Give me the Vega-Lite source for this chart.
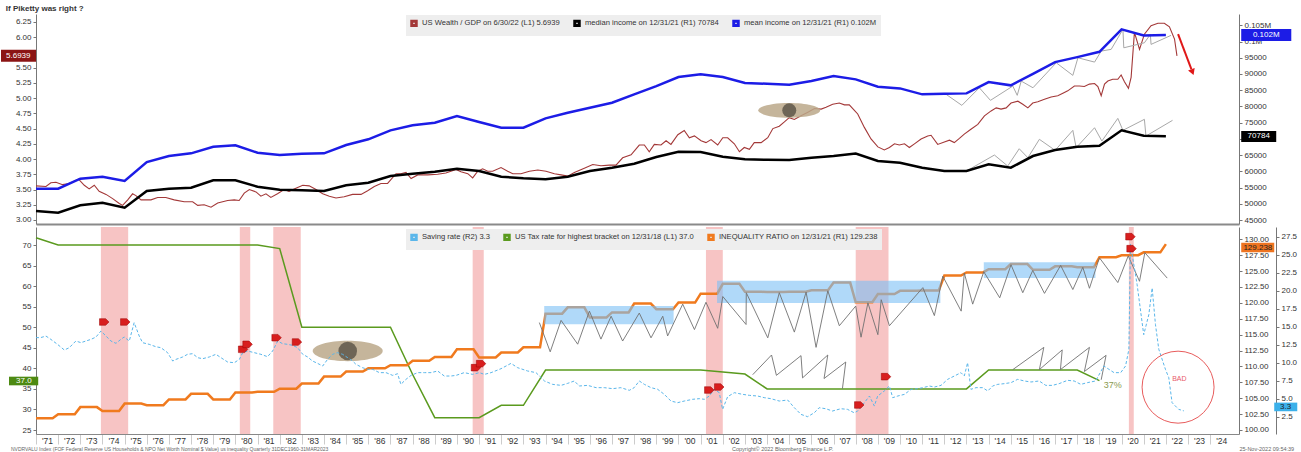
{
"$schema": "https://vega.github.io/schema/vega-lite/v6.json",
"padding": {"left": 0, "top": 4, "right": 0, "bottom": 0},
"background": "white",
"bounds": "flush",
"spacing": 3,
"config": {
  "view": {"stroke": null},
  "font": "Liberation Sans",
  "axis": {"labelFont": "Liberation Sans", "labelFontSize": 8, "labelColor": "#333333", "tickColor": "#777777", "domainColor": "#777777", "tickSize": 3, "labelPadding": 2, "grid": false, "title": null, "labelOverlap": false, "labelSeparation": 0},
  "legend": {"labelFont": "Liberation Sans", "labelFontSize": 7.6, "labelColor": "#333333", "labelLimit": 600}
},
"resolve": {"scale": {"color": "independent"}, "legend": {"color": "independent"}},
"datasets": {
  "wealth": [{"x":1971.0,"v":3.56},{"x":1971.45,"v":3.55},{"x":1971.67,"v":3.61},{"x":1971.9,"v":3.62},{"x":1972.2,"v":3.58},{"x":1972.5,"v":3.60},{"x":1972.92,"v":3.67},{"x":1973.18,"v":3.57},{"x":1973.4,"v":3.51},{"x":1973.63,"v":3.57},{"x":1973.85,"v":3.47},{"x":1974.16,"v":3.42},{"x":1974.46,"v":3.35},{"x":1974.76,"v":3.27},{"x":1974.91,"v":3.24},{"x":1975.14,"v":3.33},{"x":1975.36,"v":3.43},{"x":1975.51,"v":3.40},{"x":1975.74,"v":3.33},{"x":1976.19,"v":3.33},{"x":1976.49,"v":3.37},{"x":1976.86,"v":3.37},{"x":1977.24,"v":3.33},{"x":1977.69,"v":3.30},{"x":1978.07,"v":3.30},{"x":1978.3,"v":3.24},{"x":1978.59,"v":3.25},{"x":1978.9,"v":3.21},{"x":1979.2,"v":3.28},{"x":1979.65,"v":3.32},{"x":1979.95,"v":3.33},{"x":1980.17,"v":3.32},{"x":1980.4,"v":3.44},{"x":1980.63,"v":3.50},{"x":1980.93,"v":3.46},{"x":1981.15,"v":3.39},{"x":1981.38,"v":3.43},{"x":1981.6,"v":3.37},{"x":1981.9,"v":3.43},{"x":1982.2,"v":3.50},{"x":1982.42,"v":3.47},{"x":1982.73,"v":3.52},{"x":1983.04,"v":3.57},{"x":1983.33,"v":3.56},{"x":1983.64,"v":3.50},{"x":1983.94,"v":3.43},{"x":1984.24,"v":3.39},{"x":1984.54,"v":3.36},{"x":1984.91,"v":3.38},{"x":1985.29,"v":3.42},{"x":1985.67,"v":3.42},{"x":1985.97,"v":3.48},{"x":1986.27,"v":3.55},{"x":1986.57,"v":3.60},{"x":1986.87,"v":3.60},{"x":1987.25,"v":3.76},{"x":1987.47,"v":3.76},{"x":1987.7,"v":3.78},{"x":1987.93,"v":3.68},{"x":1988.23,"v":3.74},{"x":1988.68,"v":3.74},{"x":1989.13,"v":3.75},{"x":1989.5,"v":3.77},{"x":1989.96,"v":3.83},{"x":1990.18,"v":3.79},{"x":1990.49,"v":3.76},{"x":1990.71,"v":3.69},{"x":1990.94,"v":3.80},{"x":1991.16,"v":3.84},{"x":1991.39,"v":3.80},{"x":1991.61,"v":3.80},{"x":1991.99,"v":3.86},{"x":1992.29,"v":3.80},{"x":1992.52,"v":3.76},{"x":1992.89,"v":3.76},{"x":1993.27,"v":3.80},{"x":1993.65,"v":3.82},{"x":1994.02,"v":3.80},{"x":1994.4,"v":3.76},{"x":1994.7,"v":3.74},{"x":1995.0,"v":3.72},{"x":1995.3,"v":3.78},{"x":1995.75,"v":3.85},{"x":1996.13,"v":3.91},{"x":1996.5,"v":3.89},{"x":1996.88,"v":3.90},{"x":1997.18,"v":3.90},{"x":1997.48,"v":4.02},{"x":1997.86,"v":4.07},{"x":1998.23,"v":4.23},{"x":1998.46,"v":4.23},{"x":1998.68,"v":4.12},{"x":1998.91,"v":4.24},{"x":1999.21,"v":4.23},{"x":1999.44,"v":4.30},{"x":1999.66,"v":4.24},{"x":1999.97,"v":4.40},{"x":2000.26,"v":4.47},{"x":2000.49,"v":4.35},{"x":2000.72,"v":4.38},{"x":2001.02,"v":4.30},{"x":2001.24,"v":4.27},{"x":2001.47,"v":4.32},{"x":2001.77,"v":4.23},{"x":2002.0,"v":4.35},{"x":2002.22,"v":4.35},{"x":2002.52,"v":4.25},{"x":2002.75,"v":4.12},{"x":2002.97,"v":4.19},{"x":2003.2,"v":4.16},{"x":2003.42,"v":4.27},{"x":2003.73,"v":4.27},{"x":2004.03,"v":4.35},{"x":2004.26,"v":4.50},{"x":2004.55,"v":4.54},{"x":2004.78,"v":4.61},{"x":2005.0,"v":4.68},{"x":2005.23,"v":4.65},{"x":2005.53,"v":4.71},{"x":2005.84,"v":4.77},{"x":2006.14,"v":4.83},{"x":2006.44,"v":4.82},{"x":2006.66,"v":4.85},{"x":2006.96,"v":4.90},{"x":2007.26,"v":4.92},{"x":2007.49,"v":4.89},{"x":2007.71,"v":4.89},{"x":2007.94,"v":4.80},{"x":2008.09,"v":4.74},{"x":2008.39,"v":4.52},{"x":2008.69,"v":4.33},{"x":2009.0,"v":4.20},{"x":2009.29,"v":4.15},{"x":2009.52,"v":4.19},{"x":2009.75,"v":4.25},{"x":2009.97,"v":4.23},{"x":2010.2,"v":4.25},{"x":2010.42,"v":4.19},{"x":2010.65,"v":4.25},{"x":2010.95,"v":4.33},{"x":2011.25,"v":4.38},{"x":2011.4,"v":4.39},{"x":2011.7,"v":4.24},{"x":2012.0,"v":4.28},{"x":2012.23,"v":4.31},{"x":2012.45,"v":4.27},{"x":2012.68,"v":4.34},{"x":2012.9,"v":4.41},{"x":2013.2,"v":4.49},{"x":2013.51,"v":4.57},{"x":2013.81,"v":4.71},{"x":2014.11,"v":4.79},{"x":2014.34,"v":4.84},{"x":2014.56,"v":4.82},{"x":2014.79,"v":4.84},{"x":2015.01,"v":4.92},{"x":2015.32,"v":4.95},{"x":2015.54,"v":4.90},{"x":2015.77,"v":4.84},{"x":2015.99,"v":4.92},{"x":2016.22,"v":4.94},{"x":2016.52,"v":4.98},{"x":2016.82,"v":5.02},{"x":2017.12,"v":5.04},{"x":2017.35,"v":5.08},{"x":2017.57,"v":5.12},{"x":2017.87,"v":5.20},{"x":2018.1,"v":5.20},{"x":2018.32,"v":5.19},{"x":2018.55,"v":5.23},{"x":2018.78,"v":5.24},{"x":2018.93,"v":5.19},{"x":2019.08,"v":5.04},{"x":2019.23,"v":5.23},{"x":2019.38,"v":5.28},{"x":2019.6,"v":5.31},{"x":2019.83,"v":5.31},{"x":2019.98,"v":5.38},{"x":2020.13,"v":5.27},{"x":2020.31,"v":5.16},{"x":2020.43,"v":5.34},{"x":2020.58,"v":6.08},{"x":2020.81,"v":5.80},{"x":2021.03,"v":6.05},{"x":2021.33,"v":6.19},{"x":2021.64,"v":6.23},{"x":2021.93,"v":6.23},{"x":2022.16,"v":6.17},{"x":2022.39,"v":5.97},{"x":2022.5,"v":5.6939}],
  "median": [{"x":1971,"v":47770},{"x":1972,"v":47250},{"x":1973,"v":49530},{"x":1974,"v":50330},{"x":1975,"v":48790},{"x":1976,"v":53930},{"x":1977,"v":54640},{"x":1978,"v":54950},{"x":1979,"v":57230},{"x":1980,"v":57230},{"x":1981,"v":55260},{"x":1982,"v":54330},{"x":1983,"v":54150},{"x":1984,"v":53930},{"x":1985,"v":55690},{"x":1986,"v":56490},{"x":1987,"v":58550},{"x":1988,"v":59260},{"x":1989,"v":59880},{"x":1990,"v":60800},{"x":1991,"v":60090},{"x":1992,"v":58340},{"x":1993,"v":57840},{"x":1994,"v":57540},{"x":1995,"v":58340},{"x":1996,"v":60090},{"x":1997,"v":61110},{"x":1998,"v":62340},{"x":1999,"v":64400},{"x":2000,"v":66040},{"x":2001,"v":65940},{"x":2002,"v":64500},{"x":2003,"v":63700},{"x":2004,"v":63570},{"x":2005,"v":63480},{"x":2006,"v":64190},{"x":2007,"v":64710},{"x":2008,"v":65480},{"x":2009,"v":63170},{"x":2010,"v":62650},{"x":2011,"v":61110},{"x":2012,"v":60090},{"x":2013,"v":60090},{"x":2014,"v":62160},{"x":2015,"v":61110},{"x":2016,"v":64710},{"x":2017,"v":66560},{"x":2018,"v":67580},{"x":2019,"v":67880},{"x":2020,"v":72630},{"x":2021,"v":70960},{"x":2022,"v":70784}],
  "mean": [{"x":1971,"v":54640},{"x":1972,"v":54640},{"x":1973,"v":57720},{"x":1974,"v":58340},{"x":1975,"v":57010},{"x":1976,"v":62860},{"x":1977,"v":64710},{"x":1978,"v":65540},{"x":1979,"v":67580},{"x":1980,"v":68010},{"x":1981,"v":65730},{"x":1982,"v":65020},{"x":1983,"v":65420},{"x":1984,"v":65540},{"x":1985,"v":68100},{"x":1986,"v":69860},{"x":1987,"v":72630},{"x":1988,"v":74170},{"x":1989,"v":74970},{"x":1990,"v":77030},{"x":1991,"v":75180},{"x":1992,"v":73430},{"x":1993,"v":73430},{"x":1994,"v":76320},{"x":1995,"v":78050},{"x":1996,"v":79590},{"x":1997,"v":81130},{"x":1998,"v":83720},{"x":1999,"v":86270},{"x":2000,"v":89040},{"x":2001,"v":89880},{"x":2002,"v":89040},{"x":2003,"v":87200},{"x":2004,"v":86980},{"x":2005,"v":86670},{"x":2006,"v":87810},{"x":2007,"v":89350},{"x":2008,"v":88340},{"x":2009,"v":86060},{"x":2010,"v":85560},{"x":2011,"v":83720},{"x":2012,"v":83900},{"x":2013,"v":84020},{"x":2014,"v":87500},{"x":2015,"v":86490},{"x":2016,"v":90060},{"x":2017,"v":93660},{"x":2018,"v":95200},{"x":2019,"v":96840},{"x":2020,"v":103740},{"x":2021,"v":101890},{"x":2022,"v":102000}],
  "graytop": [{"g":"a","i":1,"x":2012.08,"v":83720},{"g":"a","i":2,"x":2012.79,"v":80330},{"g":"a","i":3,"x":2013.58,"v":85750},{"g":"a","i":4,"x":2014.08,"v":81870},{"g":"a","i":5,"x":2015.09,"v":86270},{"g":"a","i":6,"x":2015.29,"v":83410},{"g":"a","i":7,"x":2015.47,"v":87810},{"g":"a","i":8,"x":2016.0,"v":85750},{"g":"a","i":9,"x":2017.05,"v":93450},{"g":"a","i":10,"x":2017.8,"v":89570},{"g":"a","i":11,"x":2018.03,"v":94990},{"g":"a","i":12,"x":2018.78,"v":93660},{"g":"a","i":13,"x":2019.08,"v":97050},{"g":"a","i":14,"x":2019.53,"v":97580},{"g":"a","i":15,"x":2020.06,"v":103740},{"g":"a","i":16,"x":2020.1,"v":98070},{"g":"a","i":17,"x":2021.03,"v":99610},{"g":"a","i":18,"x":2021.3,"v":102200},{"g":"a","i":19,"x":2021.33,"v":99120},{"g":"a","i":20,"x":2022.23,"v":101890},
    {"g":"b","i":1,"x":2013.13,"v":60620},{"g":"b","i":2,"x":2014.26,"v":65020},{"g":"b","i":3,"x":2014.86,"v":61630},{"g":"b","i":4,"x":2015.38,"v":66960},{"g":"b","i":5,"x":2015.77,"v":64190},{"g":"b","i":6,"x":2016.29,"v":69860},{"g":"b","i":7,"x":2017.0,"v":66470},{"g":"b","i":8,"x":2017.8,"v":72630},{"g":"b","i":9,"x":2017.95,"v":67270},{"g":"b","i":10,"x":2018.78,"v":73430},{"g":"b","i":11,"x":2019.11,"v":69330},{"g":"b","i":12,"x":2019.83,"v":76320},{"g":"b","i":13,"x":2020.06,"v":72630},{"g":"b","i":14,"x":2021.03,"v":76020},{"g":"b","i":15,"x":2021.1,"v":70870},{"g":"b","i":16,"x":2022.3,"v":75710}],
  "tax": [{"x":1971.0,"v":71.75},{"x":1972.0,"v":70},{"x":1981.0,"v":70},{"x":1982.0,"v":69.13},{"x":1983.0,"v":50},{"x":1987.0,"v":50},{"x":1988.0,"v":38.5},{"x":1989.0,"v":28},{"x":1991.0,"v":28},{"x":1992.0,"v":31},{"x":1993.0,"v":31},{"x":1994.0,"v":39.6},{"x":2001.0,"v":39.6},{"x":2002.0,"v":39.1},{"x":2003.0,"v":38.6},{"x":2004.0,"v":35},{"x":2013.0,"v":35},{"x":2014.0,"v":39.6},{"x":2018.0,"v":39.6},{"x":2019.0,"v":37}],
  "ineq": [{"x":1971,"v":101.84},{"x":1971.75,"v":101.84},{"x":1972,"v":102.47},{"x":1972.75,"v":102.47},{"x":1973,"v":103.6},{"x":1973.75,"v":103.6},{"x":1974,"v":103.0},{"x":1974.75,"v":103.0},{"x":1975,"v":104.15},{"x":1975.75,"v":104.15},{"x":1976,"v":103.9},{"x":1976.75,"v":103.9},{"x":1977,"v":104.8},{"x":1977.75,"v":104.8},{"x":1978,"v":105.7},{"x":1978.75,"v":105.7},{"x":1979,"v":104.8},{"x":1979.75,"v":104.8},{"x":1980,"v":105.9},{"x":1980.75,"v":105.9},{"x":1981,"v":106.0},{"x":1981.75,"v":106.0},{"x":1982,"v":106.5},{"x":1982.75,"v":106.5},{"x":1983,"v":107.3},{"x":1983.75,"v":107.3},{"x":1984,"v":108.4},{"x":1984.75,"v":108.4},{"x":1985,"v":109.2},{"x":1985.75,"v":109.2},{"x":1986,"v":109.7},{"x":1986.75,"v":109.7},{"x":1987,"v":110.2},{"x":1987.75,"v":110.2},{"x":1988,"v":110.9},{"x":1988.75,"v":110.9},{"x":1989,"v":111.5},{"x":1989.75,"v":111.5},{"x":1990,"v":112.7},{"x":1990.75,"v":112.7},{"x":1991,"v":111.4},{"x":1991.75,"v":111.4},{"x":1992,"v":112.2},{"x":1992.75,"v":112.2},{"x":1993,"v":113.0},{"x":1993.75,"v":113.0},{"x":1994,"v":118.3},{"x":1994.75,"v":118.3},{"x":1995,"v":119.3},{"x":1995.75,"v":119.3},{"x":1996,"v":117.7},{"x":1996.75,"v":117.7},{"x":1997,"v":118.5},{"x":1997.75,"v":118.5},{"x":1998,"v":119.9},{"x":1998.75,"v":119.9},{"x":1999,"v":119.0},{"x":1999.75,"v":119.0},{"x":2000,"v":120.05},{"x":2000.75,"v":120.05},{"x":2001,"v":121.45},{"x":2001.75,"v":121.45},{"x":2002,"v":123.0},{"x":2002.75,"v":123.0},{"x":2003,"v":121.75},{"x":2003.75,"v":121.75},{"x":2004,"v":121.7},{"x":2004.75,"v":121.7},{"x":2005,"v":121.75},{"x":2005.75,"v":121.75},{"x":2006,"v":122.0},{"x":2006.75,"v":122.0},{"x":2007,"v":123.2},{"x":2007.75,"v":123.2},{"x":2008,"v":120.1},{"x":2008.75,"v":120.1},{"x":2009,"v":121.4},{"x":2009.75,"v":121.4},{"x":2010,"v":121.9},{"x":2010.75,"v":121.9},{"x":2011,"v":121.95},{"x":2011.75,"v":121.95},{"x":2012,"v":124.3},{"x":2012.75,"v":124.3},{"x":2013,"v":124.8},{"x":2013.75,"v":124.8},{"x":2014,"v":125.3},{"x":2014.75,"v":125.3},{"x":2015,"v":126.1},{"x":2015.75,"v":126.1},{"x":2016,"v":125.2},{"x":2016.75,"v":125.2},{"x":2017,"v":125.75},{"x":2017.75,"v":125.75},{"x":2018,"v":125.6},{"x":2018.75,"v":125.6},{"x":2019,"v":127.2},{"x":2019.75,"v":127.2},{"x":2020,"v":127.5},{"x":2020.75,"v":127.5},{"x":2021,"v":127.95},{"x":2021.75,"v":127.95},{"x":2022,"v":129.238}],
  "saving": [{"x":1971.0,"v":13.5},{"x":1971.19,"v":13.48},{"x":1971.45,"v":13.71},{"x":1971.67,"v":13.25},{"x":1971.97,"v":12.56},{"x":1972.28,"v":11.77},{"x":1972.5,"v":12.09},{"x":1972.8,"v":13.02},{"x":1973.03,"v":12.79},{"x":1973.25,"v":13.02},{"x":1973.48,"v":13.25},{"x":1973.71,"v":13.58},{"x":1973.93,"v":14.41},{"x":1974.16,"v":13.71},{"x":1974.38,"v":13.02},{"x":1974.61,"v":12.7},{"x":1974.83,"v":13.25},{"x":1974.98,"v":13.58},{"x":1975.21,"v":13.02},{"x":1975.43,"v":15.57},{"x":1975.66,"v":13.71},{"x":1975.81,"v":12.79},{"x":1976.11,"v":12.56},{"x":1976.41,"v":12.23},{"x":1976.64,"v":12.09},{"x":1976.94,"v":11.4},{"x":1977.17,"v":10.24},{"x":1977.32,"v":10.47},{"x":1977.62,"v":10.8},{"x":1977.84,"v":11.17},{"x":1978.07,"v":11.26},{"x":1978.3,"v":10.7},{"x":1978.52,"v":10.56},{"x":1978.82,"v":10.8},{"x":1979.12,"v":11.17},{"x":1979.35,"v":10.7},{"x":1979.65,"v":10.1},{"x":1979.95,"v":10.0},{"x":1980.18,"v":10.47},{"x":1980.33,"v":11.4},{"x":1980.55,"v":11.63},{"x":1980.85,"v":11.4},{"x":1981.15,"v":11.17},{"x":1981.45,"v":10.84},{"x":1981.68,"v":11.63},{"x":1981.91,"v":13.02},{"x":1982.13,"v":12.65},{"x":1982.36,"v":12.56},{"x":1982.58,"v":12.42},{"x":1982.81,"v":12.09},{"x":1983.04,"v":11.17},{"x":1983.26,"v":10.8},{"x":1983.48,"v":10.24},{"x":1983.71,"v":9.91},{"x":1983.94,"v":9.54},{"x":1984.16,"v":10.47},{"x":1984.39,"v":11.17},{"x":1984.61,"v":11.4},{"x":1984.84,"v":11.17},{"x":1985.07,"v":10.7},{"x":1985.29,"v":10.24},{"x":1985.44,"v":9.78},{"x":1985.74,"v":9.31},{"x":1985.97,"v":9.08},{"x":1986.2,"v":9.08},{"x":1986.5,"v":8.62},{"x":1986.8,"v":8.62},{"x":1987.1,"v":8.24},{"x":1987.32,"v":8.47},{"x":1987.47,"v":6.99},{"x":1987.7,"v":7.69},{"x":1987.93,"v":8.24},{"x":1988.23,"v":8.62},{"x":1988.53,"v":8.62},{"x":1988.83,"v":8.62},{"x":1989.13,"v":8.85},{"x":1989.43,"v":8.15},{"x":1989.73,"v":8.15},{"x":1989.96,"v":8.24},{"x":1990.33,"v":8.62},{"x":1990.71,"v":8.38},{"x":1991.01,"v":8.62},{"x":1991.24,"v":8.38},{"x":1991.54,"v":8.62},{"x":1991.99,"v":9.17},{"x":1992.44,"v":9.91},{"x":1992.74,"v":9.31},{"x":1993.19,"v":8.85},{"x":1993.57,"v":8.62},{"x":1993.95,"v":7.46},{"x":1994.32,"v":6.99},{"x":1994.7,"v":6.85},{"x":1995.0,"v":7.13},{"x":1995.3,"v":7.46},{"x":1995.52,"v":6.76},{"x":1995.9,"v":6.85},{"x":1996.28,"v":6.53},{"x":1996.65,"v":6.53},{"x":1997.03,"v":6.39},{"x":1997.4,"v":6.53},{"x":1997.78,"v":6.16},{"x":1998.0,"v":6.53},{"x":1998.23,"v":7.46},{"x":1998.46,"v":6.99},{"x":1998.76,"v":6.53},{"x":1999.06,"v":6.3},{"x":1999.36,"v":5.6},{"x":1999.66,"v":4.67},{"x":1999.96,"v":4.44},{"x":2000.26,"v":4.67},{"x":2000.64,"v":4.91},{"x":2000.94,"v":5.0},{"x":2001.17,"v":4.91},{"x":2001.39,"v":5.37},{"x":2001.62,"v":6.3},{"x":2001.84,"v":5.83},{"x":2001.99,"v":3.51},{"x":2002.22,"v":5.28},{"x":2002.52,"v":5.83},{"x":2002.9,"v":5.6},{"x":2003.2,"v":5.46},{"x":2003.57,"v":5.37},{"x":2003.87,"v":5.14},{"x":2004.17,"v":5.0},{"x":2004.55,"v":4.67},{"x":2004.93,"v":4.81},{"x":2005.23,"v":3.74},{"x":2005.53,"v":2.81},{"x":2005.83,"v":2.49},{"x":2006.13,"v":3.04},{"x":2006.35,"v":3.74},{"x":2006.65,"v":3.6},{"x":2006.95,"v":3.28},{"x":2007.33,"v":3.6},{"x":2007.63,"v":3.51},{"x":2007.93,"v":3.04},{"x":2008.09,"v":3.28},{"x":2008.39,"v":4.44},{"x":2008.62,"v":5.37},{"x":2008.84,"v":3.97},{"x":2008.99,"v":5.37},{"x":2009.29,"v":6.07},{"x":2009.52,"v":6.76},{"x":2009.67,"v":5.14},{"x":2009.9,"v":5.37},{"x":2010.2,"v":5.6},{"x":2010.5,"v":6.3},{"x":2010.8,"v":6.39},{"x":2011.03,"v":6.53},{"x":2011.33,"v":6.76},{"x":2011.55,"v":6.62},{"x":2011.85,"v":6.85},{"x":2012.15,"v":7.69},{"x":2012.45,"v":8.15},{"x":2012.75,"v":8.62},{"x":2012.9,"v":8.15},{"x":2013.05,"v":10.0},{"x":2013.2,"v":6.3},{"x":2013.43,"v":6.53},{"x":2013.73,"v":6.53},{"x":2013.96,"v":6.07},{"x":2014.18,"v":6.76},{"x":2014.41,"v":6.99},{"x":2014.71,"v":7.09},{"x":2015.01,"v":7.23},{"x":2015.31,"v":7.69},{"x":2015.61,"v":7.46},{"x":2015.91,"v":7.32},{"x":2016.28,"v":7.46},{"x":2016.58,"v":6.85},{"x":2016.88,"v":6.85},{"x":2017.18,"v":7.09},{"x":2017.56,"v":7.55},{"x":2017.86,"v":7.46},{"x":2018.16,"v":6.99},{"x":2018.46,"v":7.23},{"x":2018.83,"v":7.46},{"x":2019.2,"v":9.55},{"x":2019.43,"v":9.08},{"x":2019.66,"v":8.62},{"x":2019.96,"v":8.62},{"x":2020.18,"v":9.55},{"x":2020.33,"v":11.87},{"x":2020.4,"v":26.5},{"x":2020.7,"v":20.9},{"x":2021.0,"v":13.9},{"x":2021.23,"v":16.7},{"x":2021.38,"v":20.4},{"x":2021.53,"v":15.3},{"x":2021.68,"v":11.87},{"x":2021.98,"v":9.08},{"x":2022.13,"v":7.92},{"x":2022.28,"v":4.44},{"x":2022.58,"v":3.51},{"x":2022.81,"v":3.3}],
  "graybot": [{"g":"b1","i":1,"x":1993.72,"v":116.9},{"g":"b1","i":2,"x":1994.21,"v":112.3},{"g":"b1","i":3,"x":1994.7,"v":117.25},{"g":"b1","i":4,"x":1995.45,"v":113.5},{"g":"b1","i":5,"x":1995.98,"v":118.7},{"g":"b1","i":6,"x":1996.5,"v":114.3},{"g":"b1","i":7,"x":1996.96,"v":117.9},{"g":"b1","i":8,"x":1997.48,"v":114.0},{"g":"b1","i":9,"x":1998.23,"v":118.4},{"g":"b1","i":10,"x":1998.76,"v":114.5},{"g":"b1","i":11,"x":1999.29,"v":117.9},{"g":"b1","i":12,"x":1999.51,"v":114.8},{"g":"b1","i":13,"x":2000.19,"v":119.8},{"g":"b1","i":14,"x":2000.72,"v":115.8},{"g":"b1","i":15,"x":2001.24,"v":120.1},{"g":"b1","i":16,"x":2001.77,"v":116.0},{"g":"b1","i":17,"x":2002.0,"v":121.0},{"g":"b1","i":18,"x":2003.05,"v":116.6},{"g":"b1","i":19,"x":2003.06,"v":121.6},{"g":"b1","i":20,"x":2004.03,"v":114.5},{"g":"b1","i":21,"x":2004.55,"v":121.6},{"g":"b1","i":22,"x":2005.23,"v":115.4},{"g":"b1","i":23,"x":2005.76,"v":121.7},{"g":"b1","i":24,"x":2006.21,"v":113.0},{"g":"b1","i":25,"x":2006.74,"v":121.9},{"g":"b1","i":26,"x":2007.26,"v":116.4},{"g":"b1","i":27,"x":2008.0,"v":119.5},{"g":"b1","i":28,"x":2008.24,"v":114.6},{"g":"b1","i":29,"x":2008.55,"v":120.0},{"g":"b1","i":30,"x":2009.0,"v":115.0},{"g":"b1","i":31,"x":2009.15,"v":120.5},{"g":"b1","i":32,"x":2009.52,"v":116.4},{"g":"b1","i":33,"x":2011.03,"v":122.4},{"g":"b1","i":34,"x":2011.55,"v":118.0},{"g":"b1","i":35,"x":2011.93,"v":124.2},{"g":"b1","i":36,"x":2012.76,"v":118.7},{"g":"b1","i":37,"x":2012.9,"v":124.7},{"g":"b1","i":38,"x":2013.28,"v":119.8},{"g":"b1","i":39,"x":2013.78,"v":124.9},{"g":"b1","i":40,"x":2014.5,"v":120.8},{"g":"b1","i":41,"x":2015.01,"v":126.0},{"g":"b1","i":42,"x":2015.54,"v":121.6},{"g":"b1","i":43,"x":2015.99,"v":125.1},{"g":"b1","i":44,"x":2016.52,"v":121.5},{"g":"b1","i":45,"x":2017.25,"v":125.9},{"g":"b1","i":46,"x":2017.8,"v":122.1},{"g":"b1","i":47,"x":2018.25,"v":125.6},{"g":"b1","i":48,"x":2018.55,"v":122.3},{"g":"b1","i":49,"x":2019.0,"v":127.1},{"g":"b1","i":50,"x":2019.83,"v":123.2},{"g":"b1","i":51,"x":2020.3,"v":127.4},{"g":"b1","i":52,"x":2020.81,"v":123.4},{"g":"b1","i":53,"x":2021.05,"v":127.9},{"g":"b1","i":54,"x":2022.06,"v":123.9},
    {"g":"b2","i":1,"x":2003.35,"v":108.7},{"g":"b2","i":2,"x":2004.2,"v":111.8},{"g":"b2","i":3,"x":2004.42,"v":108.6},{"g":"b2","i":4,"x":2005.53,"v":111.7},{"g":"b2","i":5,"x":2005.6,"v":108.2},{"g":"b2","i":6,"x":2006.74,"v":111.8},{"g":"b2","i":7,"x":2006.57,"v":108.1},{"g":"b2","i":8,"x":2007.55,"v":110.7},{"g":"b2","i":9,"x":2007.4,"v":106.5},
    {"g":"b3","i":1,"x":2015.09,"v":109.5},{"g":"b3","i":2,"x":2016.49,"v":113.0},{"g":"b3","i":3,"x":2016.29,"v":109.5},{"g":"b3","i":4,"x":2017.32,"v":112.6},{"g":"b3","i":5,"x":2017.24,"v":109.5},{"g":"b3","i":6,"x":2018.55,"v":113.0},{"g":"b3","i":7,"x":2018.32,"v":109.2},{"g":"b3","i":8,"x":2019.3,"v":111.75},{"g":"b3","i":9,"x":2019.08,"v":107.9}],
  "rec": [{"x":1973.93,"x2":1975.16},{"x":1980.2,"x2":1980.67},{"x":1981.71,"x2":1982.95},{"x":1990.71,"x2":1991.21},{"x":2001.24,"x2":2002.0},{"x":2008.0,"x2":2009.48},{"x":2020.33,"x2":2020.55}],
  "boxes": [{"x":1993.94,"x2":1999.78,"y":116.63,"y2":119.5},{"x":2001.74,"x2":2011.82,"y":120.0,"y2":123.47},{"x":2013.78,"x2":2018.82,"y":123.91,"y2":126.38}],
  "markers": [{"x":1974.08,"v":15.67},{"x":1975.03,"v":15.67},{"x":1980.35,"v":11.87},{"x":1980.55,"v":12.56},{"x":1981.86,"v":13.48},{"x":1982.78,"v":12.88},{"x":1990.86,"v":9.31},{"x":1991.09,"v":9.87},{"x":2001.39,"v":6.2},{"x":2001.84,"v":6.62},{"x":2008.16,"v":4.12},{"x":2009.37,"v":8.06},{"x":2020.4,"v":27.54},{"x":2020.45,"v":25.87}]
},
"vconcat": [
 {
  "width": 1203, "height": 210,
  "resolve": {"scale": {"y": "independent"}},
  "layer": [
   {"layer": [
     {"data": {"name": "wealth"},
      "mark": {"type": "line", "strokeWidth": 1.1},
      "encoding": {
        "x": {"field": "x", "type": "quantitative", "scale": {"domain": [1971, 2025.3], "nice": false, "zero": false}, "axis": {"labels": false, "ticks": false, "domainColor": "#8a8a8a", "domainWidth": 2}},
        "y": {"field": "v", "type": "quantitative", "scale": {"domain": [2.934, 6.381], "nice": false, "zero": false}, "axis": {"orient": "left", "tickCount": 500, "values": [3,3.25,3.5,3.75,4,4.25,4.5,4.75,5,5.25,5.5,5.75,6,6.25], "labelExpr": "datum.value == 5.75 ? '' : format(datum.value, '.2f')", "labelOverlap": false}},
        "color": {"datum": "US Wealth / GDP on 6/30/22 (L1) 5.6939", "type": "nominal",
          "scale": {"domain": ["US Wealth / GDP on 6/30/22 (L1) 5.6939", "median income on 12/31/21 (R1) 70784", "mean income on 12/31/21 (R1) 0.102M"], "range": ["#a33838", "#000000", "#1c1ce6"]},
          "legend": {"title": null, "orient": "none", "legendX": 370, "legendY": 1, "direction": "horizontal", "columns": 3, "fillColor": "#eeeeee", "padding": 4, "symbolType": "square", "symbolSize": 20, "symbolStrokeWidth": 3, "columnPadding": 8, "labelOffset": 4, "labelFontSize": 7.6}}
      }},
     {"data": {"values": [{}]}, "mark": {"type": "rect", "color": "#8b1414"},
      "encoding": {"x": {"datum": 1969.42, "type": "quantitative"}, "x2": {"datum": 1971.0}, "y": {"datum": 5.7924, "type": "quantitative"}, "y2": {"datum": 5.5954}}},
     {"data": {"values": [{}]}, "mark": {"type": "text", "color": "white", "fontSize": 8, "align": "center", "baseline": "middle"},
      "encoding": {"x": {"datum": 1970.2, "type": "quantitative"}, "y": {"datum": 5.6939, "type": "quantitative"}, "text": {"value": "5.6939"}}},
     {"data": {"values": [{}]}, "mark": {"type": "text", "color": "#333333", "fontSize": 8, "fontWeight": "bold", "align": "left", "baseline": "middle"},
      "encoding": {"x": {"datum": 1969.64, "type": "quantitative"}, "y": {"datum": 6.464, "type": "quantitative"}, "text": {"value": "If Piketty was right ?"}}}
   ]},
   {"layer": [
     {"data": {"name": "graytop"},
      "mark": {"type": "line", "strokeWidth": 1, "color": "#a8a8a8"},
      "encoding": {
        "x": {"field": "x", "type": "quantitative"},
        "y": {"field": "v", "type": "quantitative", "scale": {"domain": [43768, 108480], "nice": false, "zero": false}, "axis": {"orient": "right", "tickCount": 500, "labelOverlap": false, "values": [45000,50000,55000,60000,65000,70000,75000,80000,85000,90000,95000,100000,105000], "labelExpr": "datum.value == 70000 ? '' : (datum.value >= 100000 ? format(datum.value/1000000, '.3~f') + 'M' : format(datum.value, 'd'))"}},
        "detail": {"field": "g"},
        "order": {"field": "i"}
      }},
     {"data": {"name": "median"},
      "mark": {"type": "line", "strokeWidth": 2.5},
      "encoding": {
        "x": {"field": "x", "type": "quantitative"},
        "y": {"field": "v", "type": "quantitative"},
        "color": {"datum": "median income on 12/31/21 (R1) 70784", "type": "nominal"}
      }},
     {"data": {"name": "mean"},
      "mark": {"type": "line", "strokeWidth": 2.5},
      "encoding": {
        "x": {"field": "x", "type": "quantitative"},
        "y": {"field": "v", "type": "quantitative"},
        "color": {"datum": "mean income on 12/31/21 (R1) 0.102M", "type": "nominal"}
      }},
     {"data": {"values": [{"x": 2005.0, "v": 78790}]},
      "mark": {"type": "point", "shape": "M-1,0A1,0.24,0,1,0,1,0A1,0.24,0,1,0,-1,0Z", "size": 3844, "filled": true, "color": "#bba88a", "opacity": 0.85},
      "encoding": {"x": {"field": "x", "type": "quantitative"}, "y": {"field": "v", "type": "quantitative"}}},
     {"data": {"values": [{"x": 2005.0, "v": 78790}]},
      "mark": {"type": "point", "shape": "circle", "size": 196, "filled": true, "color": "#6e6556", "opacity": 1},
      "encoding": {"x": {"field": "x", "type": "quantitative"}, "y": {"field": "v", "type": "quantitative"}}},
     {"data": {"values": [{}]}, "mark": {"type": "rule", "color": "#e01818", "strokeWidth": 2},
      "encoding": {"x": {"datum": 2022.55, "type": "quantitative"}, "x2": {"datum": 2023.15}, "y": {"datum": 102290, "type": "quantitative"}, "y2": {"datum": 91500}}},
     {"data": {"values": [{}]}, "mark": {"type": "point", "shape": "triangle-down", "angle": -21, "size": 50, "filled": true, "color": "#e01818", "opacity": 1},
      "encoding": {"x": {"datum": 2023.2, "type": "quantitative"}, "y": {"datum": 90600, "type": "quantitative"}}},
     {"data": {"values": [{}]}, "mark": {"type": "rect", "color": "#1c1ce6"},
      "encoding": {"x": {"datum": 2025.4, "type": "quantitative"}, "x2": {"datum": 2027.66}, "y": {"datum": 103830, "type": "quantitative"}, "y2": {"datum": 100130}}},
     {"data": {"values": [{}]}, "mark": {"type": "text", "color": "white", "fontSize": 8, "align": "center", "baseline": "middle"},
      "encoding": {"x": {"datum": 2026.53, "type": "quantitative"}, "y": {"datum": 102000, "type": "quantitative"}, "text": {"value": "0.102M"}}},
     {"data": {"values": [{}]}, "mark": {"type": "rect", "color": "#000000"},
      "encoding": {"x": {"datum": 2025.4, "type": "quantitative"}, "x2": {"datum": 2026.98}, "y": {"datum": 72410, "type": "quantitative"}, "y2": {"datum": 69020}}},
     {"data": {"values": [{}]}, "mark": {"type": "text", "color": "white", "fontSize": 8, "align": "center", "baseline": "middle"},
      "encoding": {"x": {"datum": 2026.19, "type": "quantitative"}, "y": {"datum": 70784, "type": "quantitative"}, "text": {"value": "70784"}}}
   ]}
  ]
 },
 {
  "width": 1203, "height": 207,
  "resolve": {"scale": {"y": "independent"}},
  "layer": [
   {"layer": [
     {"data": {"name": "rec"},
      "mark": {"type": "rect", "color": "#f08a8a", "opacity": 0.5},
      "encoding": {
        "x": {"field": "x", "type": "quantitative", "scale": {"domain": [1971, 2025.3], "nice": false, "zero": false},
          "axis": {"tickCount": 500, "values": [1971,1972,1973,1974,1975,1976,1977,1978,1979,1980,1981,1982,1983,1984,1985,1986,1987,1988,1989,1990,1991,1992,1993,1994,1995,1996,1997,1998,1999,2000,2001,2002,2003,2004,2005,2006,2007,2008,2009,2010,2011,2012,2013,2014,2015,2016,2017,2018,2019,2020,2021,2022,2023,2024], "labelExpr": "\"'\" + substring(toString(datum.value), 2, 4)", "tickSize": 10, "tickColor": "#cccccc", "labelPadding": -8, "labelOffset": 11, "labelFlush": false, "labelOverlap": false, "labelBound": false, "labelFontSize": 8.5, "domainColor": "#888888"}},
        "x2": {"field": "x2"}
      }},
     {"data": {"name": "tax"},
      "mark": {"type": "line", "strokeWidth": 1.5},
      "encoding": {
        "x": {"field": "x", "type": "quantitative"},
        "y": {"field": "v", "type": "quantitative", "scale": {"domain": [24.03, 74.38], "nice": false, "zero": false}, "axis": {"orient": "left", "tickCount": 500, "labelOverlap": false, "values": [25,30,35,40,45,50,55,60,65,70], "format": "d"}},
        "color": {"datum": "US Tax rate for highest bracket on 12/31/18 (L1) 37.0", "type": "nominal",
          "scale": {"domain": ["Saving rate (R2) 3.3", "US Tax rate for highest bracket on 12/31/18 (L1) 37.0", "INEQUALITY RATIO on 12/31/21 (R1) 129.238"], "range": ["#5ab6ea", "#5a9a1e", "#f07a1e"]},
          "legend": {"title": null, "orient": "none", "legendX": 370, "legendY": 2, "direction": "horizontal", "columns": 3, "fillColor": "#eeeeee", "padding": 4, "symbolType": "square", "symbolSize": 20, "symbolStrokeWidth": 3, "columnPadding": 8, "labelOffset": 4, "labelFontSize": 7.6}}
      }},
     {"data": {"values": [{}]}, "mark": {"type": "rect", "color": "#4d8a12"},
      "encoding": {"x": {"datum": 1969.78, "type": "quantitative"}, "x2": {"datum": 1971.1}, "y": {"datum": 37.97, "type": "quantitative"}, "y2": {"datum": 35.87}}},
     {"data": {"values": [{}]}, "mark": {"type": "text", "color": "white", "fontSize": 8, "align": "center", "baseline": "middle"},
      "encoding": {"x": {"datum": 1970.45, "type": "quantitative"}, "y": {"datum": 37.0, "type": "quantitative"}, "text": {"value": "37.0"}}},
     {"data": {"values": [{}]}, "mark": {"type": "text", "color": "#8a9a50", "fontSize": 9, "align": "center", "baseline": "middle"},
      "encoding": {"x": {"datum": 2019.6, "type": "quantitative"}, "y": {"datum": 35.87, "type": "quantitative"}, "text": {"value": "37%"}}}
   ]},
   {"layer": [
     {"data": {"name": "ineq"},
      "mark": {"type": "line", "strokeWidth": 2.5},
      "encoding": {
        "x": {"field": "x", "type": "quantitative"},
        "y": {"field": "v", "type": "quantitative", "scale": {"domain": [99.37, 131.94], "nice": false, "zero": false}, "axis": {"orient": "right", "tickCount": 500, "labelOverlap": false, "values": [100,102.5,105,107.5,110,112.5,115,117.5,120,122.5,125,127.5,130], "format": ".2f"}},
        "color": {"datum": "INEQUALITY RATIO on 12/31/21 (R1) 129.238", "type": "nominal"}
      }},
     {"data": {"name": "boxes"},
      "mark": {"type": "rect", "color": "#7cc0f5", "opacity": 0.6},
      "encoding": {"x": {"field": "x", "type": "quantitative"}, "x2": {"field": "x2"}, "y": {"field": "y", "type": "quantitative"}, "y2": {"field": "y2"}}},
     {"data": {"name": "graybot"},
      "mark": {"type": "line", "strokeWidth": 0.9, "color": "#707070"},
      "encoding": {"x": {"field": "x", "type": "quantitative"}, "y": {"field": "v", "type": "quantitative"}, "detail": {"field": "g"}, "order": {"field": "i"}}},
     {"data": {"values": [{"x": 1985.07, "v": 112.43}]},
      "mark": {"type": "point", "shape": "M-1,0A1,0.29,0,1,0,1,0A1,0.29,0,1,0,-1,0Z", "size": 4900, "filled": true, "color": "#bba88a", "opacity": 0.85},
      "encoding": {"x": {"field": "x", "type": "quantitative"}, "y": {"field": "v", "type": "quantitative"}}},
     {"data": {"values": [{"x": 1985.07, "v": 112.43}]},
      "mark": {"type": "point", "shape": "circle", "size": 346, "filled": true, "color": "#6e6556", "opacity": 1},
      "encoding": {"x": {"field": "x", "type": "quantitative"}, "y": {"field": "v", "type": "quantitative"}}},
     {"data": {"values": [{}]}, "mark": {"type": "rect", "color": "#ee7420"},
      "encoding": {"x": {"datum": 2025.4, "type": "quantitative"}, "x2": {"datum": 2026.89}, "y": {"datum": 129.45, "type": "quantitative"}, "y2": {"datum": 127.95}}},
     {"data": {"values": [{}]}, "mark": {"type": "text", "color": "#222222", "fontSize": 8, "align": "center", "baseline": "middle"},
      "encoding": {"x": {"datum": 2026.15, "type": "quantitative"}, "y": {"datum": 128.7, "type": "quantitative"}, "text": {"value": "129.238"}}}
   ]},
   {"layer": [
     {"data": {"name": "saving"},
      "mark": {"type": "line", "strokeWidth": 1, "strokeDash": [3, 2]},
      "encoding": {
        "x": {"field": "x", "type": "quantitative"},
        "y": {"field": "v", "type": "quantitative", "scale": {"domain": [0.083, 28.886], "nice": false, "zero": false}, "axis": {"orient": "right", "offset": 37, "tickCount": 500, "labelOverlap": false, "values": [2.5,5,7.5,10,12.5,15,17.5,20,22.5,25,27.5], "format": ".1f"}},
        "color": {"datum": "Saving rate (R2) 3.3", "type": "nominal"}
      }},
     {"data": {"name": "markers"},
      "mark": {"type": "point", "shape": "M-1,-0.7L0.3,-0.7L1,0L0.3,0.7L-1,0.7Z", "size": 90, "filled": true, "color": "#d81e1e", "stroke": "#9a0000", "strokeWidth": 0.5, "opacity": 1},
      "encoding": {"x": {"field": "x", "type": "quantitative"}, "y": {"field": "v", "type": "quantitative"}}},
     {"data": {"values": [{"x": 2022.55, "v": 6.6}]},
      "mark": {"type": "point", "shape": "circle", "size": 5184, "filled": false, "color": "#e85c5c", "strokeWidth": 1, "opacity": 1},
      "encoding": {"x": {"field": "x", "type": "quantitative"}, "y": {"field": "v", "type": "quantitative"}}},
     {"data": {"values": [{}]}, "mark": {"type": "text", "color": "#e85a6a", "fontSize": 7, "align": "center", "baseline": "middle"},
      "encoding": {"x": {"datum": 2022.61, "type": "quantitative"}, "y": {"datum": 7.78, "type": "quantitative"}, "text": {"value": "BAD"}}},
     {"data": {"values": [{}]}, "mark": {"type": "rect", "color": "#3bb0ea"},
      "encoding": {"x": {"datum": 2026.89, "type": "quantitative"}, "x2": {"datum": 2027.93}, "y": {"datum": 4.45, "type": "quantitative"}, "y2": {"datum": 3.25}}},
     {"data": {"values": [{}]}, "mark": {"type": "text", "color": "#222222", "fontSize": 8, "align": "center", "baseline": "middle"},
      "encoding": {"x": {"datum": 2027.4, "type": "quantitative"}, "y": {"datum": 3.85, "type": "quantitative"}, "text": {"value": "3.3"}}},
     {"data": {"values": [{}]}, "mark": {"type": "text", "color": "#666666", "fontSize": 5, "align": "left", "baseline": "middle"},
      "encoding": {"x": {"datum": 1969.87, "type": "quantitative"}, "y": {"datum": -2.05, "type": "quantitative"}, "text": {"value": "NVDRVALU Index (FOF Federal Reserve US Households & NPO Net Worth Nominal $ Value) us inequality  Quarterly 31DEC1960-31MAR2023"}}},
     {"data": {"values": [{}]}, "mark": {"type": "text", "color": "#666666", "fontSize": 5.5, "align": "center", "baseline": "middle"},
      "encoding": {"x": {"datum": 2004.7, "type": "quantitative"}, "y": {"datum": -2.05, "type": "quantitative"}, "text": {"value": "Copyright© 2022 Bloomberg Finance L.P."}}},
     {"data": {"values": [{}]}, "mark": {"type": "text", "color": "#666666", "fontSize": 5.5, "align": "right", "baseline": "middle"},
      "encoding": {"x": {"datum": 2027.79, "type": "quantitative"}, "y": {"datum": -2.05, "type": "quantitative"}, "text": {"value": "25-Nov-2022 09:54:39"}}}
   ]}
  ]
 }
]
}
